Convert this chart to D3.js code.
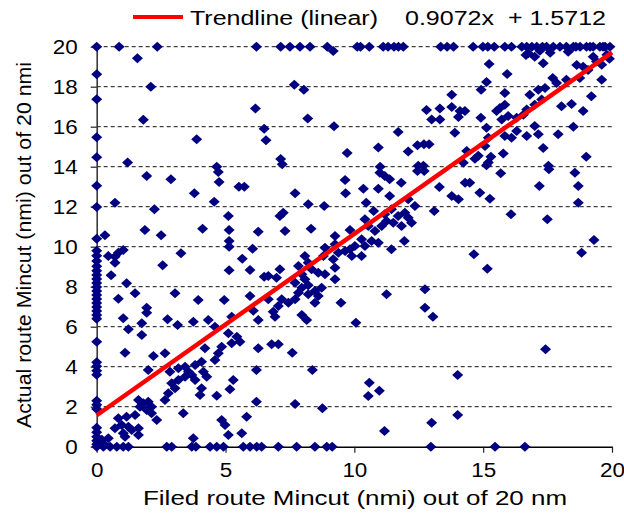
<!DOCTYPE html>
<html><head><meta charset="utf-8">
<script src="https://cdn.jsdelivr.net/npm/d3@7"></script>
<style>
html,body{margin:0;padding:0;background:#fff;}
svg{display:block;font-family:"Liberation Sans",Arial,sans-serif;}
</style></head><body>
<svg id="chart" width="624" height="515"></svg>
<script>
// Filed-route mincut values whose actual-route mincut reached the 20 nmi cap
const actualCapped = [0, 0.87, 2.35, 6.2, 7.14, 7.5, 7.89, 8.28, 8.95, 10.11, 10.24, 10.58,
  11.12, 11.31, 11.54, 11.71, 11.9, 13.35, 13.6, 13.85, 14.61, 14.99, 15.18, 15.43, 15.84,
  16.1, 16.5, 16.69, 16.89, 17.08, 17.3, 17.46, 17.72, 17.98, 18.23, 18.5, 18.6, 18.76,
  19.01, 19.15, 19.27, 19.53, 19.65, 19.73, 19.92];

// Filed-route mincut values whose actual-route mincut was 0
const actualZero = [0, 0.26, 0.52, 0.78, 1.03, 1.23, 2.72, 2.91, 3.69, 3.85, 4.4, 4.66, 4.92,
  5.69, 5.95, 6.21, 6.4, 7.05, 7.76, 8.47, 8.93, 9.14, 12.97, 15.46, 16.62];

// Actual-route mincut values for flights whose filed-route mincut was 0
const filedZero = [18.62, 17.37, 15.47, 14.47, 13.05, 11.98, 10.4, 9.8, 9.55, 9.28, 9.02, 8.8,
  8.58, 8.38, 8.18, 7.98, 7.78, 7.58, 7.38, 7.18, 6.98, 6.78, 6.58, 6.4, 5.25, 4.22, 4.02,
  3.8, 3.6, 2.3, 2.1, 1.88, 0.95, 0.72, 0.5, 0.3, 0.12];

// Remaining flights as [filed, actual]
const scatterPairs = [
  [9.18,19.79],[1.58,19.42],[2.1,18.0],[6.16,16.91],[1.81,16.35],[3.88,15.37],[1.2,14.21],[4.66,14.0],
  [7.67,18.1],[8.04,17.85],[8.19,16.41],[6.5,15.9],[9.21,16.02],[6.57,15.32],[11.7,15.74],[9.72,14.68],
  [10.93,14.96],[12.09,14.76],[12.45,15.07],[12.7,15.12],[12.9,15.12],[12.8,16.83],[13.0,16.36],
  [7.14,14.38],[7.2,14.12],[11.0,14.0],[12.48,14.05],[12.68,14.05],
  [16.75,19.67],[17.0,19.5],[16.66,19.59],[17.33,19.17],[18.63,19.09],[18.88,19.0],[19.07,18.84],
  [19.4,19.26],[19.6,19.1],[19.27,19.5],[15.23,19.14],[15.93,18.63],[17.7,18.43],[15.13,18.23],
  [14.92,17.85],[18.75,18.43],[19.6,18.35],[13.78,17.6],[15.84,17.69],[16.81,17.6],[17.14,17.85],
  [17.4,17.93],[17.85,18.18],[18.23,18.35],[13.32,16.91],[13.78,16.99],[14.1,16.78],[14.29,16.78],
  [14.04,16.48],[13.32,16.36],[15.65,16.94],[15.84,17.1],[15.52,16.78],[14.91,16.45],[16.69,16.86],
  [17.0,17.1],[17.27,17.36],[18.04,17.02],[18.43,17.14],[18.88,16.78],[19.2,17.52],[15.72,16.36],
  [15.97,16.53],[16.3,16.45],[16.56,16.6],[15.13,15.95],[13.9,15.7],[15.2,15.45],[15.84,15.54],
  [16.3,15.79],[16.1,15.45],[16.69,15.54],[17.0,16.03],[17.14,15.62],[17.91,15.62],[18.5,16.0],
  [17.33,14.93],[15.78,14.66],[15.3,14.5],[14.81,14.55],[15.07,15.04],[14.36,14.79],[19.0,14.5],
  [17.53,14.05],[15.2,14.21],[14.23,14.2],[14.68,14.4],[17.2,19.8],[17.6,19.7],[18.3,19.75],
  [19.8,19.6],[19.9,19.4],
  [15.13,14.07],[15.68,13.67],[17.55,13.87],[18.56,13.7],[13.3,12.98],[14.3,13.2],[14.48,13.2],
  [13.78,12.53],[14.04,12.37],[14.87,12.7],[15.26,12.4],[17.18,13.03],[18.69,13.03],[18.69,12.2],
  [13.1,11.78],[16.08,11.62],[17.49,11.37],[19.3,10.33],[18.82,9.7],[14.64,9.62],[15.16,8.9],
  [1.94,13.53],[2.88,13.37],[4.72,13.73],[4.75,13.23],[5.52,13.0],[5.73,13.0],[3.79,12.67],
  [0.71,12.2],[4.56,12.25],[2.24,11.87],[5.11,11.53],[1.87,10.83],[2.5,10.57],[4.11,10.9],
  [5.14,10.83],[6.27,10.75],[0.32,10.57],[5.14,10.28],[5.14,10.0],[6.05,9.9],[0.45,9.53],
  [0.71,9.5],[0.84,9.7],[1.03,9.83],[0.71,9.2],[3.27,9.67],[2.56,9.07],[5.65,9.4],[5.14,8.82],
  [5.95,8.83],[6.5,8.5],[0.56,8.57],[1.16,8.17],[1.49,7.67],[0.84,7.4],[3.04,7.67],[3.94,7.33],
  [4.95,7.33],[5.95,7.53],[1.94,6.95],
  [9.64,13.33],[9.66,12.67],[10.35,12.9],[10.93,12.9],[10.99,13.7],[11.18,13.53],[11.37,13.37],
  [11.82,13.2],[12.45,13.78],[12.71,13.78],[7.7,12.67],[8.21,12.12],[8.83,12.03],[7.24,11.7],
  [7.11,11.53],[10.46,12.2],[11.37,12.53],[10.75,11.78],[12.09,12.37],[12.35,12.03],[7.31,10.78],
  [8.32,10.9],[9.83,10.83],[9.25,10.53],[10.41,11.37],[10.54,11.03],[10.8,10.78],[11.18,11.62],
  [11.44,11.87],[11.7,11.53],[11.96,11.7],[11.51,11.2],[11.83,11.03],[12.22,11.2],[12.09,11.45],
  [11.06,11.03],[11.25,11.28],[10.28,10.37],[10.67,10.28],[10.02,10.03],[10.41,10.03],[10.93,10.2],
  [11.94,10.28],[11.44,9.87],[9.25,10.12],[9.64,9.78],[9.9,9.53],[10.28,9.53],[9.83,9.87],
  [9.38,9.7],[8.86,9.95],[8.8,9.53],[9.18,9.37],[9.25,8.95],[8.08,9.53],[8.21,9.2],[7.83,9.03],
  [8.34,8.87],[8.6,8.7],[8.86,8.62],[7.11,8.87],[6.66,8.53],[6.98,8.45],[7.96,8.62],[8.08,8.37],
  [9.25,8.37],[7.7,8.2],[7.96,7.95],[8.21,8.07],[8.47,7.78],[8.73,7.95],[7.83,7.7],[8.21,7.62],
  [6.66,7.37],[7.18,7.37],[7.44,7.2],[7.7,7.37],[8.47,7.2],[8.6,7.53],[9.48,7.2],[11.25,7.62],
  [12.74,7.87],[12.74,6.95],[7.05,7.03],
  [6.85,6.75],[6.92,6.5],[7.96,6.58],[8.15,6.33],[10.06,6.2],[13.05,6.5],[6.79,5.12],[7.05,5.12],
  [7.59,4.7],[8.37,3.83],[10.58,3.2],[10.97,2.8],[10.54,2.53],[7.7,2.13],[8.76,1.92],[13.0,1.2],
  [11.17,0.78],[17.42,4.87],[14.01,3.58],[14.01,1.58],
  [1.03,6.42],[1.94,6.7],[1.23,5.87],[1.75,6.17],[1.75,5.58],[2.75,6.37],[3.14,6.08],[3.75,6.25],
  [4.33,6.33],[4.59,6.0],[5.24,6.5],[6.08,6.8],[6.27,6.33],[1.1,4.7],[2.2,4.53],[2.65,4.67],
  [4.2,4.92],[4.85,5.0],[5.24,5.17],[6.27,4.92],[5.11,5.67],[5.44,5.5],[5.56,5.25],[4.72,4.67],
  [4.59,4.33],[2.0,3.83],[2.84,3.75],[3.17,3.92],[3.43,4.0],[3.56,3.75],[3.82,4.08],[4.07,4.25],
  [3.69,3.58],[3.82,3.33],[4.14,3.75],[4.27,3.5],[2.91,3.17],[3.04,2.92],[2.78,2.67],[2.65,2.33],
  [3.17,3.33],[3.43,3.5],[4.07,2.92],[4.01,2.58],[4.66,2.55],[5.3,3.33],[5.17,2.87],[6.2,3.83],
  [6.2,2.25],[1.62,2.33],[1.81,2.17],[2.0,2.25],[2.13,2.0],[1.94,1.83],[2.13,1.67],[1.68,2.0],
  [2.33,1.33],[3.36,1.67],[0.84,1.42],[1.16,1.5],[1.49,1.58],[0.71,0.92],[0.97,1.08],[1.23,1.0],
  [1.03,0.67],[1.1,0.5],[1.36,0.83],[1.62,0.92],[1.62,0.58],[0.45,0.42],[4.85,1.33],[4.98,1.08],
  [5.11,0.58],[5.63,0.67],[5.82,1.5],[3.75,0.42],[0.2,0.35],[0.3,0.1]
];

const xTicks = [0, 5, 10, 15, 20];
const yTicks = [0, 2, 4, 6, 8, 10, 12, 14, 16, 18, 20];
const trendSlope = 0.9072;
const trendIntercept = 1.5712;
const xTitle = "Filed route Mincut (nmi) out of 20 nm";
const yTitle = "Actual route Mincut (nmi) out of 20 nmi";
const legendLabel = "Trendline (linear)";

const svg = d3.select("#chart");
svg.append("rect").attr("width", 624).attr("height", 515).attr("fill", "#fff");

const x = d3.scaleLinear().domain([0, 20]).range([96.7, 612]);
const y = d3.scaleLinear().domain([0, 20]).range([446.7, 46.7]);

// widen horizontal text the way the original export renders it
function widen(sel, k) {
  sel.each(function () {
    const w = this.getComputedTextLength();
    d3.select(this).attr("textLength", w * k).attr("lengthAdjust", "spacingAndGlyphs");
  });
}

// dashed horizontal gridlines
svg.append("g").selectAll("line")
  .data(yTicks.filter(v => v > 0))
  .join("line")
  .attr("x1", x(0)).attr("x2", x(20))
  .attr("y1", d => y(d)).attr("y2", d => y(d))
  .attr("stroke", "#111").attr("stroke-width", 1)
  .attr("stroke-dasharray", "4,3");

// axes
const yAxisG = svg.append("g")
  .attr("transform", `translate(${x(0)},0)`)
  .call(d3.axisLeft(y).tickValues(yTicks).tickSize(6).tickSizeOuter(0).tickPadding(13));
const xAxisG = svg.append("g")
  .attr("transform", `translate(0,${y(0)})`)
  .call(d3.axisBottom(x).tickValues(xTicks).tickSize(6).tickSizeOuter(0).tickPadding(10));

yAxisG.select(".domain").attr("stroke", "#3a3a3a").attr("stroke-width", 1.6);
xAxisG.select(".domain").attr("stroke", "#000").attr("stroke-width", 1.6);
svg.selectAll(".tick line").attr("stroke", "#222").attr("stroke-width", 1.2);
svg.selectAll(".tick text")
  .attr("font-family", "'Liberation Sans', Arial, sans-serif")
  .attr("font-size", 20).attr("fill", "#000");
widen(svg.selectAll(".tick text"), 1.12);

// data points
const points = [
  ...actualCapped.map(v => [v, 20]),
  ...actualZero.map(v => [v, 0]),
  ...filedZero.map(v => [0, v]),
  ...scatterPairs
];
svg.append("g").selectAll("path")
  .data(points)
  .join("path")
  .attr("d", "M0,-5L5.5,0L0,5L-5.5,0Z")
  .attr("transform", d => `translate(${x(d[0])},${y(d[1])})`)
  .attr("fill", "#000080");

// linear trendline
svg.append("line")
  .attr("x1", x(0)).attr("y1", y(trendIntercept))
  .attr("x2", x(20)).attr("y2", y(trendSlope * 20 + trendIntercept))
  .attr("stroke", "#ff0000").attr("stroke-width", 4.5);

// legend
svg.append("line")
  .attr("x1", 133).attr("x2", 183).attr("y1", 17).attr("y2", 17)
  .attr("stroke", "#ff0000").attr("stroke-width", 4);
svg.append("text")
  .attr("x", 190).attr("y", 25)
  .attr("font-size", 20).attr("fill", "#000")
  .attr("textLength", 188).attr("lengthAdjust", "spacingAndGlyphs")
  .text(legendLabel);
svg.append("text")
  .attr("x", 405).attr("y", 25)
  .attr("font-size", 20).attr("fill", "#000")
  .style("white-space", "pre")
  .attr("textLength", 201).attr("lengthAdjust", "spacingAndGlyphs")
  .text(`${trendSlope}x  + ${trendIntercept}`);

// axis titles
svg.append("text")
  .attr("x", 355).attr("y", 505)
  .attr("text-anchor", "middle")
  .attr("font-size", 20).attr("fill", "#000")
  .attr("textLength", 424).attr("lengthAdjust", "spacingAndGlyphs")
  .text(xTitle);
svg.append("text")
  .attr("transform", "translate(31,245) rotate(-90)")
  .attr("text-anchor", "middle")
  .attr("font-size", 20).attr("fill", "#000")
  .attr("textLength", 366).attr("lengthAdjust", "spacingAndGlyphs")
  .text(yTitle);
</script>
</body></html>
